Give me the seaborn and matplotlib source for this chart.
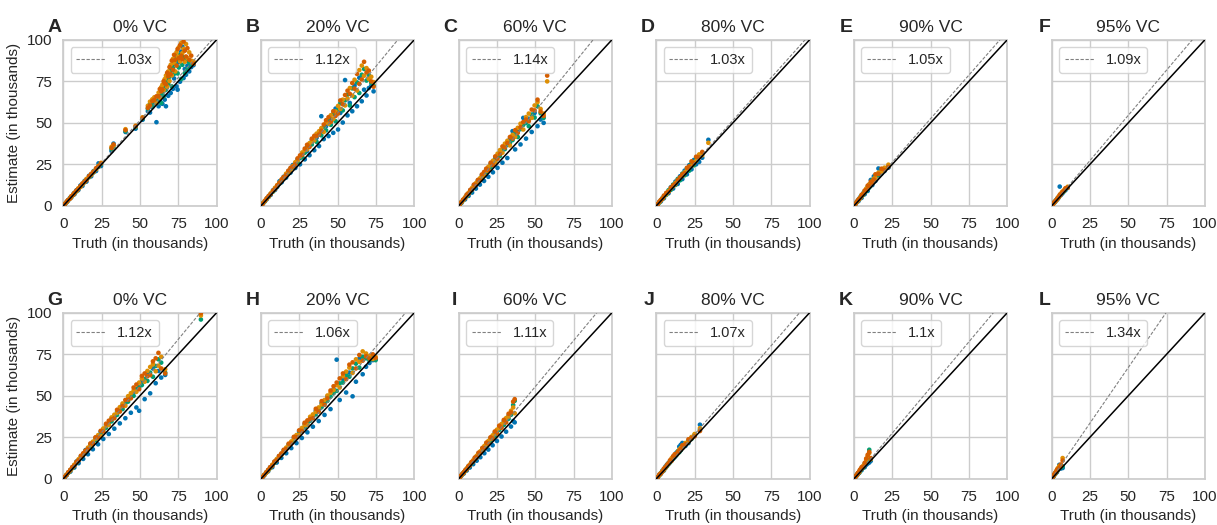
import matplotlib
matplotlib.use("Agg")
import matplotlib.pyplot as plt
import pandas as pd
import seaborn as sns

nan = float("nan")

vc_levels = ["0% VC", "20% VC", "60% VC", "80% VC", "90% VC", "95% VC"]
panel_letters = list("ABCDEFGHIJKL")
fit_slopes = [1.03, 1.12, 1.14, 1.03, 1.05, 1.09,
              1.12, 1.06, 1.11, 1.07, 1.1, 1.34]
axis_ticks = [0, 25, 50, 75, 100]
series_names = ["run 1", "run 2", "run 3", "run 4"]

# ---- panel A ----
A_truth = [1.2, 2.3, 3.1, 4.4, 5.2, 6.5, 7.3, 8.6, 9.8, 11.2, 12.5, 13.9, 15.1,
           16.8, 18.2, 19.7, 21.4, 23.0, 24.6, 31.5, 32.8, 40.6, 47.2, 51.8,
           55.2, 56.6, 58.1, 59.4, 60.8, 62.2, 63.0, 63.9, 64.7, 65.5, 66.2,
           67.0, 67.8, 68.5, 69.3, 70.1, 70.8, 71.6, 72.3, 73.1, 73.9, 74.6,
           75.4, 76.2, 77.0, 77.7, 78.5, 79.3, 80.1, 81.0, 82.2, 83.5, 85.0]
A_blue = [1.1, 2.5, 3.0, 4.9, 5.0, 7.1, 7.0, 9.4, 9.5, 12.3, 12.0, 15.0, 14.6,
          18.1, 17.8, 20.9, 21.0, 25.6, 24.0, 33.0, 37.5, 44.5, 46.5, 51.9,
          57.0, 56.2, 59.5, 61.8, 50.4, 60.0, 63.5, 67.9, 61.5, 70.9, 64.0,
          60.0, 74.5, 66.3, 80.5, 68.0, 84.2, 70.5, 76.8, 90.5, 72.0, 70.0,
          86.5, 74.8, 93.0, 96.0, 77.0, 82.5, 79.0, 84.5, 81.0, 83.6, 84.8]
A_green = [1.3, 2.2, 3.4, 4.5, 5.6, 6.6, 7.8, 8.7, 10.2, 11.6, 13.2, 14.2,
           15.8, 17.2, 18.9, 20.1, 22.3, 23.5, 25.2, 34.2, 35.1, 45.0, 47.4,
           52.6, 58.5, 61.5, 60.0, 62.7, 63.0, 64.5, 66.8, 62.0, 68.5, 66.0,
           72.6, 70.0, 76.0, 73.5, 77.8, 81.5, 72.0, 83.0, 79.5, 85.4, 88.2,
           79.8, 83.4, 91.0, 76.5, 85.0, 89.5, 80.0, 87.5, 82.5, 86.4, 85.0,
           86.2]
A_orange = [1.4, 2.4, 3.3, 4.6, 5.4, 6.9, 7.6, 9.0, 10.6, 11.4, 12.9, 14.6,
            16.2, 17.5, 18.6, 20.6, 22.0, 24.1, 25.9, 35.6, 36.4, 46.2, 48.3,
            53.4, 60.3, 62.8, 64.2, 65.4, 61.9, 68.2, 65.0, 71.5, 73.0, 69.8,
            76.4, 78.5, 71.8, 81.0, 75.2, 85.0, 78.6, 88.6, 86.2, 81.0, 92.6,
            90.0, 95.5, 87.0, 98.2, 92.0, 94.6, 86.8, 97.5, 89.2, 92.5, 87.5,
            87.0]
A_red = [1.2, 2.6, 3.5, 4.3, 5.8, 6.7, 7.9, 9.2, 10.1, 11.9, 13.5, 14.4, 15.5,
         17.9, 19.3, 20.4, 22.7, 23.8, 25.5, 34.8, 37.0, 45.6, 47.9, 53.0,
         59.0, 60.4, 63.1, 63.9, 66.0, 66.0, 70.4, 69.0, 70.2, 75.1, 74.0,
         73.2, 80.2, 78.0, 83.6, 79.4, 87.5, 82.0, 91.0, 88.0, 84.5, 94.5,
         89.0, 96.8, 90.5, 88.4, 99.0, 93.5, 90.0, 95.0, 88.0, 90.5, 85.6]

# ---- panel B ----
B_truth = [1.3, 2.6, 3.8, 5.1, 6.4, 7.9, 9.2, 10.6, 12.1, 13.5, 14.8, 16.4,
           17.9, 19.3, 20.8, 22.4, 23.9, 25.5, 27.0, 28.6, 30.1, 31.7, 33.2,
           34.8, 36.3, 37.9, 39.4, 41.0, 42.5, 44.1, 45.6, 47.2, 48.7, 50.3,
           51.8, 53.4, 54.9, 56.5, 58.0, 59.6, 61.1, 62.7, 64.2, 65.8, 67.3,
           68.9, 70.4, 72.0, 73.5]
B_blue = [1.4, 2.9, 4.0, 5.9, 6.6, 9.4, 9.6, 11.4, 14.8, 14.2, 17.5, 17.0,
          20.9, 20.0, 24.6, 22.8, 28.0, 25.0, 31.5, 28.0, 33.0, 30.5, 39.8,
          33.5, 41.0, 36.0, 54.0, 40.2, 48.0, 42.0, 52.8, 44.0, 58.6, 46.0,
          56.0, 50.2, 75.8, 54.5, 62.0, 57.0, 72.5, 60.0, 77.2, 63.0, 70.0,
          66.5, 71.0, 72.4, 69.0]
B_green = [1.5, 2.7, 4.4, 5.4, 7.3, 8.6, 10.5, 12.0, 13.4, 15.6, 16.4, 18.8,
           19.6, 22.4, 23.1, 25.5, 26.2, 28.8, 29.4, 32.0, 35.2, 36.4, 37.0,
           40.8, 38.6, 44.2, 42.5, 47.6, 45.5, 51.2, 48.8, 55.5, 51.0, 58.0,
           61.8, 57.5, 63.6, 67.0, 60.5, 70.8, 65.5, 74.4, 68.0, 79.0, 82.5,
           75.5, 78.6, 74.2, 72.5]
B_orange = [1.6, 3.1, 4.3, 5.7, 7.5, 9.0, 10.9, 12.5, 14.0, 15.3, 17.0, 19.4,
            20.5, 21.8, 24.0, 26.3, 27.4, 29.6, 32.2, 33.6, 34.0, 37.8, 38.6,
            39.5, 43.5, 45.0, 46.8, 44.5, 50.4, 49.5, 54.6, 52.4, 56.8, 60.2,
            58.4, 64.0, 60.5, 64.6, 71.0, 66.4, 76.0, 69.5, 81.8, 84.5, 78.4,
            83.0, 76.5, 77.8, 74.6]
B_red = [1.3, 3.0, 4.6, 6.0, 7.1, 9.2, 10.2, 12.2, 13.8, 16.0, 17.3, 18.5,
         21.2, 22.9, 23.6, 25.0, 28.6, 30.4, 30.8, 34.5, 36.8, 35.5, 40.5,
         42.2, 42.0, 43.0, 45.2, 49.0, 51.6, 53.4, 50.6, 57.0, 54.2, 55.6,
         63.5, 61.2, 66.8, 69.4, 67.5, 74.0, 70.6, 79.5, 73.5, 76.2, 86.8,
         80.4, 81.5, 75.0, 71.8]

# ---- panel C ----
C_truth = [0.8, 1.9, 3.0, 4.2, 5.3, 6.5, 7.6, 8.8, 10.0, 11.3, 12.6, 13.9,
           15.2, 16.6, 18.0, 19.4, 20.9, 22.4, 23.9, 25.4, 27.0, 28.6, 30.2,
           31.8, 33.5, 35.2, 36.9, 38.6, 40.4, 42.2, 44.0, 45.8, 47.7, 49.6,
           51.5, 53.5, 55.5, 57.8]
C_blue = [0.7, 1.8, 3.6, 3.9, 6.5, 6.0, 9.4, 8.0, 12.5, 10.4, 15.3, 12.8,
          18.5, 15.0, 21.6, 17.5, 25.3, 20.2, 28.7, 22.9, 32.5, 26.0, 36.0,
          28.8, 40.4, 45.0, 34.0, 44.8, 37.0, 53.0, 40.5, 52.5, 44.5, 56.0,
          48.0, 52.0, 50.0, nan]
C_green = [0.9, 2.3, 3.3, 4.9, 5.8, 7.6, 8.4, 10.2, 11.4, 13.0, 14.1, 16.0,
           16.9, 19.2, 20.2, 22.4, 23.3, 25.8, 27.0, 29.6, 30.0, 33.4, 34.2,
           36.6, 38.0, 39.6, 43.5, 41.5, 46.2, 48.8, 50.0, 48.0, 55.0, 53.2,
           60.0, 55.8, 53.0, nan]
C_orange = [1.0, 2.2, 3.5, 5.2, 6.2, 7.9, 8.9, 10.8, 11.9, 13.7, 14.9, 16.6,
            17.8, 18.4, 21.0, 23.5, 24.6, 27.2, 26.2, 31.4, 33.6, 32.0, 37.5,
            39.2, 36.4, 42.8, 41.6, 47.0, 49.5, 46.0, 53.5, 55.6, 53.0, 60.5,
            62.5, 58.4, 55.6, 75.0]
C_red = [1.1, 2.4, 3.8, 4.7, 6.8, 7.3, 9.6, 9.9, 12.8, 12.6, 15.6, 15.4,
         18.9, 20.4, 22.4, 21.6, 26.0, 24.6, 29.8, 28.4, 31.2, 35.8, 35.0,
         37.8, 41.5, 40.5, 45.6, 44.0, 47.4, 50.5, 52.0, 51.0, 58.0, 57.5,
         64.0, 56.8, 54.2, 78.5]

# ---- panel D ----
D_truth = [1, 2, 3, 4, 5, 6.5, 8, 9.5, 11, 12.5, 14, 15.5, 17, 18.5, 20, 21.5,
           23, 24.5, 26, 28, 30, 34]
D_blue = [0.9, 2.3, 2.7, 4.7, 4.6, 7.5, 7.6, 11.2, 10.4, 14.6, 13.2, 17.8,
          16.1, 21.2, 19.0, 24.5, 22.0, 27.6, 25.0, 26.5, 29.0, 39.8]
D_green = [1.1, 1.9, 3.5, 4.1, 5.9, 6.6, 9.4, 9.6, 12.8, 12.6, 16.2, 15.4,
           19.4, 18.4, 22.6, 21.2, 25.6, 24.4, 28.8, 29.8, nan, nan]
D_orange = [1.2, 2.2, 3.3, 4.5, 5.4, 7.0, 8.8, 10.4, 11.8, 13.8, 15.0, 16.8,
            18.0, 20.2, 21.5, 23.0, 24.2, 26.2, 27.0, 31.0, 30.5, 38.0]
D_red = [1.0, 2.5, 3.6, 4.3, 6.2, 7.8, 8.4, 10.9, 12.4, 13.2, 15.6, 17.2,
         19.0, 19.6, 22.9, 23.8, 26.8, 25.6, 29.6, 29.2, 32.5, nan]

# ---- panel E ----
E_truth = [1, 2, 3, 4, 5, 6, 7, 8, 9, 10, 11, 12, 13, 14, 16, 18, 20, 22.5]
E_blue = [1.0, 2.6, 2.9, 5.2, 4.8, 7.6, 7.0, 9.8, 9.0, 12.8, 15.6, 12.5, 17.8,
          15.0, 22.5, 19.5, 21.0, 23.0]
E_green = [1.2, 2.2, 3.8, 4.4, 6.4, 6.6, 8.9, 8.8, 11.6, 11.0, 13.3, 15.6,
           14.5, 18.2, 18.0, 21.8, 22.4, 24.0]
E_orange = [1.3, 2.4, 3.5, 4.9, 5.8, 7.3, 8.2, 10.4, 10.3, 13.0, 12.4, 14.5,
            16.4, 16.8, 20.0, 20.5, 23.0, 24.8]
E_red = [1.1, 2.7, 3.9, 4.6, 6.6, 7.0, 9.2, 9.6, 12.2, 11.8, 14.6, 13.6,
         15.8, 19.0, 19.2, 22.4, 21.6, 23.5]

# ---- panel F ----
F_truth = [0.8, 1.5, 2.2, 3, 3.8, 4.5, 5.3, 6, 7, 8, 9, 10.5]
F_blue = [0.8, 1.8, 2.2, 3.6, 3.9, 5.2, 11.6, 6.4, 7.4, 8.8, 9.4, 10.8]
F_green = [0.9, 1.6, 2.7, 3.2, 4.6, 4.8, 6.2, 7.1, 8.0, 8.6, 10.0, 11.2]
F_orange = [1.0, 1.7, 2.5, 3.5, 4.2, 5.5, 5.9, 7.4, 8.5, 9.4, 10.2, 11.5]
F_red = [0.9, 1.9, 2.6, 3.3, 4.5, 5.0, 6.6, 6.8, 8.2, 9.0, 10.6, 11.0]

# ---- panel G ----
G_truth = [0.9, 2.1, 3.3, 4.6, 5.9, 7.2, 8.6, 10.0, 11.5, 13.0, 14.5, 16.1,
           17.7, 19.3, 21.0, 22.7, 24.4, 26.1, 27.9, 29.7, 31.5, 33.3, 35.1,
           36.9, 38.7, 40.5, 42.3, 44.1, 45.9, 47.7, 49.5, 51.3, 53.1, 54.9,
           56.7, 58.5, 60.3, 62.1, 63.9, 66.5, 89.8]
G_blue = [0.8, 2.0, 3.9, 4.3, 6.9, 6.8, 10.4, 9.4, 13.6, 12.0, 17.3, 14.8,
          20.9, 17.8, 24.6, 20.8, 28.4, 24.0, 32.5, 27.0, 36.3, 30.2, 40.4,
          33.4, 44.6, 36.5, 48.4, 39.8, 52.0, 43.0, 41.0, 58.4, 48.0, 62.5,
          51.5, 66.5, 57.6, 65.0, 61.0, 62.6, nan]
G_green = [1.0, 2.4, 3.6, 5.3, 6.4, 8.2, 9.5, 11.4, 12.8, 14.8, 16.0, 18.2,
           19.6, 21.8, 23.3, 25.5, 27.1, 29.2, 30.8, 33.4, 34.6, 37.2, 38.5,
           41.6, 42.0, 45.5, 46.5, 49.6, 50.0, 54.0, 55.2, 56.5, 60.2, 59.0,
           64.0, 61.5, 68.0, 72.0, 70.0, 64.0, 96.0]
G_orange = [1.1, 2.5, 3.8, 5.0, 6.7, 8.5, 9.8, 11.8, 13.2, 14.3, 16.6, 18.8,
            20.4, 22.4, 24.2, 26.3, 25.8, 30.3, 31.9, 32.5, 37.0, 38.6, 39.8,
            43.2, 45.4, 44.0, 49.8, 51.6, 53.2, 52.4, 58.0, 60.4, 58.5, 65.0,
            67.4, 69.0, 64.8, 68.2, 73.5, 66.0, 98.4]
G_red = [1.2, 2.3, 4.0, 5.5, 7.1, 7.9, 10.2, 11.1, 13.9, 15.4, 17.0, 17.9,
         21.3, 21.2, 25.0, 24.9, 28.9, 28.5, 33.2, 35.0, 35.8, 36.5, 41.6,
         40.5, 43.8, 47.5, 47.6, 48.5, 55.0, 56.8, 54.0, 62.0, 63.5, 61.8,
         62.5, 70.8, 72.6, 75.9, 66.5, 63.5, 99.8]

# ---- panel H ----
H_truth = [0.9, 2.1, 3.4, 4.7, 6.0, 7.4, 8.8, 10.3, 11.8, 13.3, 14.9, 16.5,
           18.1, 19.8, 21.5, 23.2, 24.9, 26.7, 28.5, 30.3, 32.1, 33.9, 35.8,
           37.7, 39.6, 41.5, 43.4, 45.4, 47.4, 49.4, 51.4, 53.5, 55.6, 57.7,
           59.8, 62.0, 64.2, 66.4, 68.6, 70.8, 73.0, 74.8]
H_blue = [0.9, 2.0, 3.8, 4.5, 6.9, 7.0, 10.2, 9.8, 13.6, 12.6, 17.2, 15.4,
          20.8, 18.5, 24.8, 21.5, 28.6, 24.6, 33.0, 28.0, 36.5, 31.4, 41.0,
          34.8, 45.6, 38.5, 49.6, 42.0, 54.0, 71.8, 47.5, 60.2, 52.0, 64.0,
          49.7, 58.5, 72.4, 63.0, 67.5, 69.8, 71.5, 72.0]
H_green = [1.0, 2.3, 3.6, 5.2, 6.4, 8.2, 9.6, 11.5, 12.8, 14.8, 16.2, 18.2,
           19.6, 21.8, 23.2, 25.6, 27.0, 29.4, 31.0, 33.5, 35.0, 37.2, 38.8,
           41.5, 43.2, 45.5, 47.0, 49.5, 51.6, 53.0, 57.5, 58.0, 62.5, 61.5,
           66.5, 69.4, 67.0, 73.5, 72.6, 71.4, 73.8, 71.5]
H_orange = [1.1, 2.4, 3.7, 5.0, 6.7, 8.5, 9.9, 11.9, 13.3, 14.4, 16.8, 18.8,
            20.4, 22.5, 24.1, 26.4, 26.4, 30.6, 32.4, 32.6, 37.4, 38.8, 40.4,
            43.0, 44.8, 47.5, 50.2, 51.8, 53.5, 56.4, 55.0, 61.8, 64.6, 67.0,
            63.8, 72.0, 70.5, 76.8, 75.5, 74.0, 72.2, 73.5]
H_red = [1.0, 2.2, 3.9, 5.4, 7.0, 7.9, 10.4, 11.2, 13.8, 15.3, 17.5, 17.9,
         21.2, 21.3, 25.3, 25.0, 29.2, 28.8, 33.8, 35.2, 36.0, 36.5, 42.2,
         40.5, 46.8, 44.6, 48.5, 53.2, 55.8, 58.0, 60.5, 63.5, 60.0, 68.8,
         70.2, 66.5, 74.6, 71.2, 73.8, 72.5, 75.0, 72.8]

# ---- panel I ----
I_truth = [0.7, 1.6, 2.5, 3.4, 4.3, 5.3, 6.3, 7.3, 8.4, 9.5, 10.6, 11.8, 13.0,
           14.2, 15.5, 16.8, 18.1, 19.4, 20.8, 22.2, 23.6, 25.0, 26.5, 28.0,
           29.5, 31.0, 32.6, 34.2, 35.6, 36.6]
I_blue = [0.7, 1.6, 2.9, 3.2, 5.0, 5.0, 7.4, 6.8, 9.9, 8.8, 12.5, 10.9, 15.4,
          13.0, 18.3, 15.4, 21.3, 17.6, 24.5, 20.2, 27.8, 22.8, 31.2, 25.5,
          34.6, 28.4, 38.0, 31.5, 34.8, 34.0]
I_green = [0.8, 1.9, 2.7, 3.9, 4.7, 6.1, 6.9, 8.3, 9.2, 10.8, 11.7, 13.4,
           14.3, 16.1, 17.0, 19.0, 20.0, 21.8, 23.0, 25.0, 26.0, 28.2, 29.5,
           31.6, 32.5, 35.0, 36.2, 38.6, 44.5, 47.0]
I_orange = [0.9, 1.8, 2.8, 3.7, 4.9, 6.3, 7.2, 8.6, 9.6, 11.2, 12.2, 13.9,
            14.9, 16.6, 17.8, 19.8, 20.8, 22.8, 24.0, 26.2, 27.0, 29.6, 30.6,
            33.0, 33.8, 36.6, 37.5, 41.0, 43.0, 39.5]
I_red = [0.8, 2.0, 3.0, 4.0, 5.2, 5.8, 7.6, 8.0, 10.1, 10.5, 12.8, 13.0, 15.7,
         15.6, 18.6, 18.5, 21.8, 21.2, 25.0, 24.3, 28.5, 27.4, 32.0, 30.8,
         35.5, 34.0, 39.2, 40.0, 46.5, 48.0]

# ---- panel J ----
J_truth = [1, 2, 3, 4, 5, 6, 7, 8, 9, 10, 11, 12, 13, 14, 15, 16, 17, 19, 21,
           23, 25, 28.5]
J_blue = [0.9, 2.4, 3.0, 4.9, 5.0, 7.4, 8.6, 8.8, 10.8, 11.8, 13.4, 13.0,
          15.6, 15.8, 19.4, 20.5, 21.6, 19.8, 21.5, 24.8, 26.0, 32.6]
J_green = [1.1, 2.0, 3.6, 4.3, 5.9, 6.5, 7.6, 9.6, 9.8, 11.2, 12.0, 14.2,
           14.0, 16.6, 16.0, 17.2, 19.4, 20.5, 23.0, 24.0, 26.5, 29.5]
J_orange = [1.2, 2.2, 3.4, 4.6, 5.4, 7.0, 8.0, 9.0, 10.4, 12.4, 12.6, 13.5,
            15.0, 15.2, 17.6, 18.6, 18.6, 21.6, 22.2, 25.2, 27.0, 30.5]
J_red = [1.0, 2.6, 3.2, 4.4, 6.2, 6.8, 8.4, 9.4, 11.2, 10.8, 13.6, 14.8, 14.6,
         16.2, 17.0, 17.8, 20.2, 20.8, 23.8, 24.4, 25.6, 28.8]

# ---- panel K ----
K_truth = [0.5, 1, 1.5, 2, 2.5, 3, 3.5, 4, 5, 6, 7, 8, 9, 10, 11]
K_blue = [0.5, 1.3, 1.5, 2.5, 2.6, 3.7, 3.6, 4.9, 5.2, 7.2, 7.0, 8.4, 9.2,
          9.8, 10.8]
K_green = [0.6, 1.1, 1.9, 2.2, 3.2, 3.3, 4.4, 4.4, 6.5, 6.6, 9.0, 10.5, 12.5,
           17.5, 12.0]
K_orange = [0.7, 1.2, 1.7, 2.6, 2.9, 3.9, 4.0, 5.2, 6.0, 7.8, 8.4, 11.5, 13.8,
            15.5, 11.8]
K_red = [0.6, 1.4, 2.0, 2.4, 3.4, 3.6, 4.6, 5.6, 7.0, 7.2, 9.6, 12.2, 14.5,
         16.2, 12.5]

# ---- panel L ----
L_truth = [0.5, 1, 1.5, 2, 2.5, 3, 3.5, 4, 5, 6, 7.2]
L_blue = [0.6, 1.3, 1.7, 2.9, 3.0, 4.2, 4.0, 5.6, 8.4, 6.2, 6.5]
L_green = [0.7, 1.2, 2.2, 2.6, 3.6, 3.8, 5.0, 5.2, 7.2, 6.8, 7.5]
L_orange = [0.8, 1.5, 2.0, 3.1, 3.3, 4.6, 4.7, 6.4, 7.8, 7.4, 12.5]
L_red = [0.7, 1.6, 2.4, 2.8, 3.8, 4.1, 5.4, 5.8, 6.6, 8.6, 11.0]

panels = [
    (A_truth, [A_blue, A_green, A_orange, A_red]),
    (B_truth, [B_blue, B_green, B_orange, B_red]),
    (C_truth, [C_blue, C_green, C_orange, C_red]),
    (D_truth, [D_blue, D_green, D_orange, D_red]),
    (E_truth, [E_blue, E_green, E_orange, E_red]),
    (F_truth, [F_blue, F_green, F_orange, F_red]),
    (G_truth, [G_blue, G_green, G_orange, G_red]),
    (H_truth, [H_blue, H_green, H_orange, H_red]),
    (I_truth, [I_blue, I_green, I_orange, I_red]),
    (J_truth, [J_blue, J_green, J_orange, J_red]),
    (K_truth, [K_blue, K_green, K_orange, K_red]),
    (L_truth, [L_blue, L_green, L_orange, L_red]),
]

sns.set_theme(style="whitegrid")
plt.rcParams["font.family"] = ["Liberation Sans", "DejaVu Sans"]

cb = sns.color_palette("colorblind")
series_colors = [cb[0], cb[2], cb[1], cb[3]]

fig, axes = plt.subplots(2, 6, figsize=(12.17, 5.25), dpi=100, sharey=True)
fig.subplots_adjust(left=0.052, right=0.990, top=0.924, bottom=0.088,
                    wspace=0.29, hspace=0.645)

for i, ax in enumerate(axes.flat):
    truth, estimates = panels[i]
    frames = [pd.DataFrame({"truth": truth, "estimate": est, "series": name})
              for name, est in zip(series_names, estimates)]
    df = pd.concat(frames, ignore_index=True).dropna()
    sns.scatterplot(data=df, x="truth", y="estimate", hue="series",
                    hue_order=series_names, palette=series_colors, s=11,
                    linewidth=0, legend=False, ax=ax, zorder=3)

    k = fit_slopes[i]
    fit_line, = ax.plot([0, 100], [0, 100 * k], ls=(0, (3, 1.5)), lw=0.8,
                        color="grey", label=f"{k}x", zorder=4)
    ax.plot([0, 100], [0, 100], color="black", lw=1.1, zorder=5)

    ax.set_xlim(0, 100)
    ax.set_ylim(0, 100)
    ax.set_xticks(axis_ticks)
    ax.set_yticks(axis_ticks)
    ax.tick_params(labelsize=11, pad=2)
    ax.set_xlabel("Truth (in thousands)", fontsize=11)
    ax.set_ylabel("Estimate (in thousands)" if i % 6 == 0 else "", fontsize=11)
    ax.set_title(vc_levels[i % 6], fontsize=12.5)
    ax.annotate(panel_letters[i], xy=(0, 1), xycoords="axes fraction",
                xytext=(-1, 6), textcoords="offset points", ha="right",
                va="baseline", fontsize=14, fontweight="bold")
    ax.legend(handles=[fit_line], loc="upper left", fontsize=10.5)

fig.savefig("out.png", dpi=100)
